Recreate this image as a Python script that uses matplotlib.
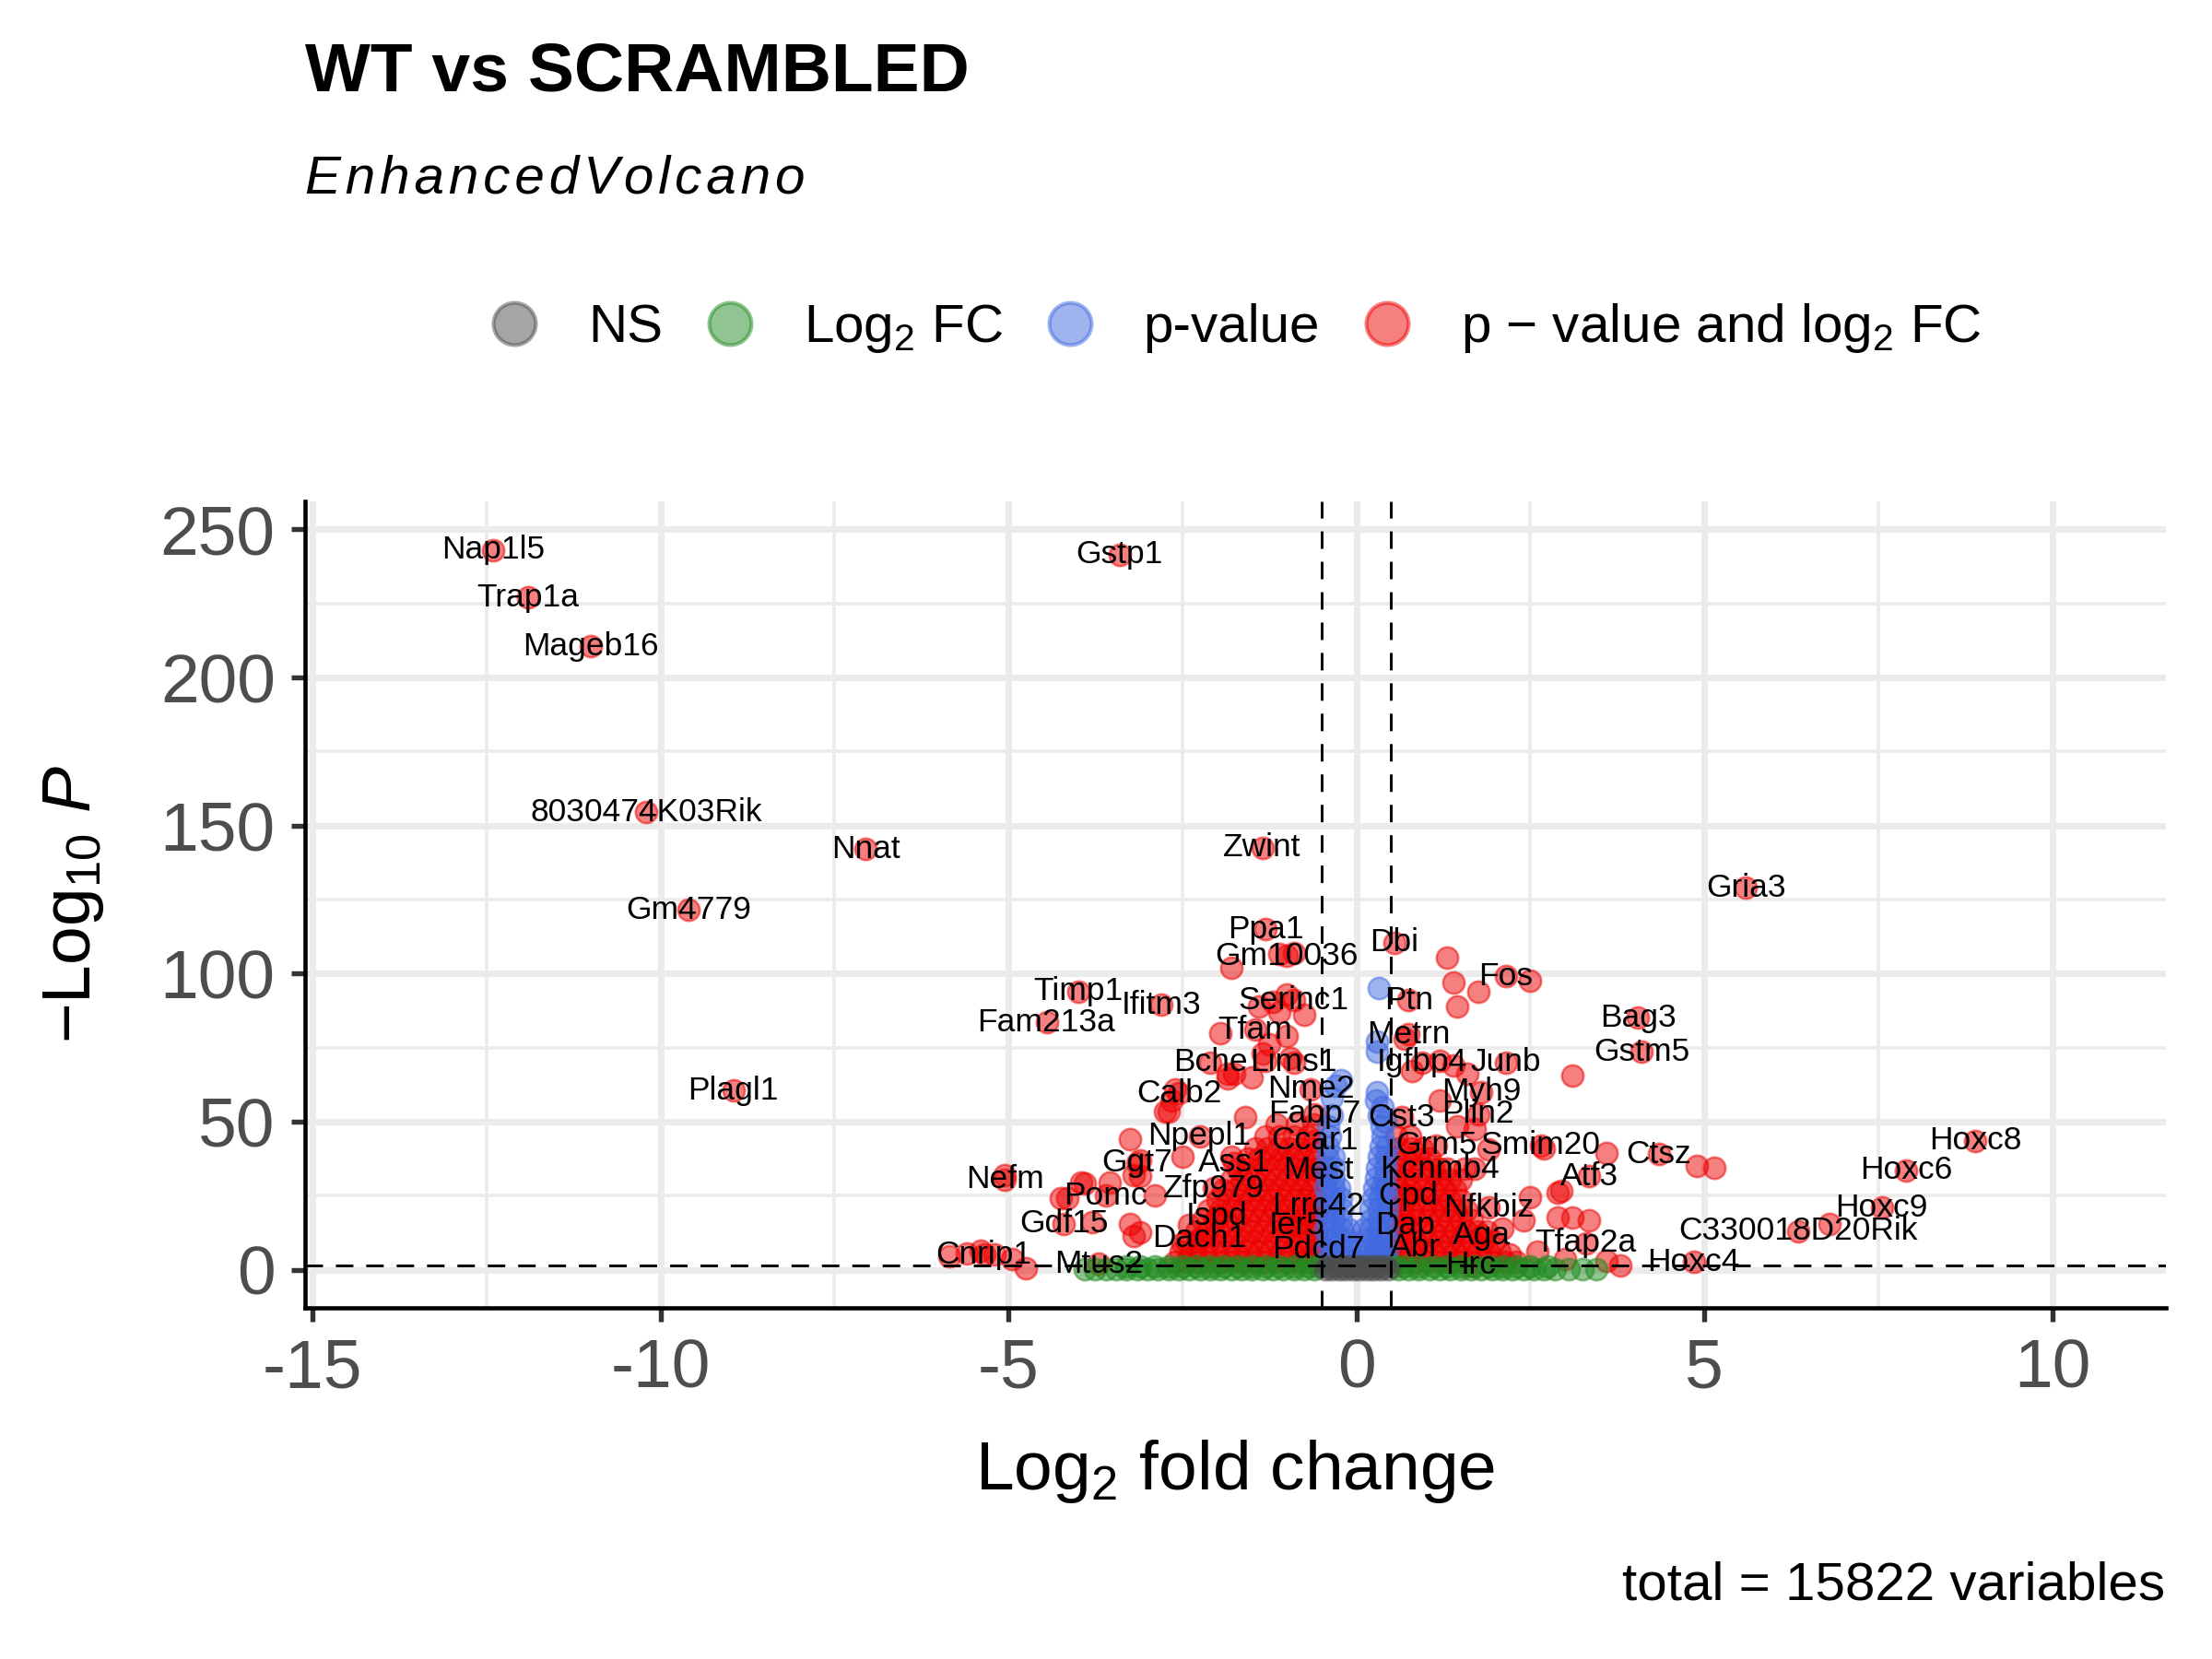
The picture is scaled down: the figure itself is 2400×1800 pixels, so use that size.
import matplotlib
matplotlib.use("Agg")
import matplotlib.pyplot as plt
from matplotlib.lines import Line2D

plt.rcParams['font.family'] = ['Liberation Sans', 'DejaVu Sans']
plt.rcParams['mathtext.fontset'] = 'custom'
plt.rcParams['mathtext.rm'] = 'Liberation Sans'
plt.rcParams['mathtext.it'] = 'Liberation Sans:italic'
plt.rcParams['mathtext.bf'] = 'Liberation Sans:bold'
plt.rcParams['axes.unicode_minus'] = False

# labelled genes (log2 FC, -log10 P)
label_genes = ["Nap1l5", "Trap1a", "Mageb16", "8030474K03Rik", "Nnat", "Gm4779", "Gstp1",
               "Zwint", "Ppa1", "Gm10036", "Dbi", "Gria3", "Fos", "Timp1", "Ifitm3", "Fam213a",
               "Serinc1", "Tfam", "Ptn", "Metrn", "Bag3", "Gstm5", "Bche", "Lims1", "Igfbp4",
               "Junb", "Calb2", "Nme2", "Myh9", "Plagl1", "Fabp7", "Cst3", "Plin2", "Npepl1",
               "Ccar1", "Grm5", "Smim20", "Ctsz", "Hoxc8", "Ggt7", "Ass1", "Mest", "Kcnmb4",
               "Atf3", "Hoxc6", "Nefm", "Zfp979", "Pomc", "Cpd", "Nfkbiz", "Lrrc42", "Hoxc9",
               "Ispd", "Gdf15", "Ier5", "Dap", "C330018D20Rik", "Dach1", "Aga", "Tfap2a", "Abr",
               "Pdcd7", "Cnrip1", "Mtus2", "Hrc", "Hoxc4"]
label_x = [-12.4, -11.9, -11.0, -10.2, -7.05, -9.6, -3.4,
           -1.35, -1.3, -1.0, 0.55, 5.6, 2.15, -4.0, -2.8, -4.45,
           -0.9, -1.45, 0.75, 0.75, 4.05, 4.1, -2.1, -0.9, 0.95,
           2.15, -2.55, -0.65, 1.8, -8.95, -0.6, 0.65, 1.75, -2.25,
           -0.6, 1.15, 2.65, 4.35, 8.9, -3.15, -1.75, -0.55, 1.2,
           3.35, 7.9, -5.05, -2.05, -3.6, 0.75, 1.9, -0.55, 7.55,
           -2.0, -4.2, -0.85, 0.7, 6.35, -2.25, 1.8, 3.3, 0.85,
           -0.55, -5.35, -3.7, 1.65, 4.85]
label_y = [243, 227, 210.5, 154.5, 142, 121.5, 241.5,
           142.5, 115, 106, 110.5, 129, 99, 94, 89.5, 83.5,
           91, 81, 91, 79.5, 85, 73.5, 70, 70, 70,
           70, 59.5, 61, 60, 60.5, 52.5, 51.5, 52.5, 45,
           43.5, 42, 42, 39, 43.5, 36, 36, 33.5, 34,
           31.5, 33.5, 30.5, 27.5, 25, 25, 21, 21.5, 21,
           18, 15.5, 15, 15, 13, 10.5, 11.5, 9, 7.5,
           7, 5, 2, 1.5, 2.5]

# other significant genes (p-value and log2 FC)
red_x = [-1.8, -1.1, -0.9, -1.4, -1.1, -0.75, -1.2, -1.0, -1.95, -1.25, -1.0, -1.35,
         -1.85, -1.75, -1.5, -1.3, -0.95, -2.7, -2.65,
         1.3, 1.4, 1.45, 1.75, 2.5, 0.7, 0.8, 1.2, 1.4, 1.6, 3.1, 1.2, 1.45, 1.7, 1.9,
         2.7, 3.6, 4.9, 5.15, 2.9, 2.5, 2.9, 3.35, 3.1, 2.1, 2.4, 3.0, 3.8, 2.6, 2.2, 6.8,
         -3.25, -3.1, -3.9, -4.15, -3.2, -3.8, -2.9, -3.2, -4.25, -3.95, -3.55, -3.25,
         -3.1, -2.75, -2.6, -2.5, -3.1, -2.4, -2.5, -1.85, -1.6, -1.8,
         -5.4, -5.2, -4.95, -4.75, -5.85, -5.6, -5.05, 2.95, 3.6]
red_y = [102, 106.5, 107, 89, 87, 86, 90.5, 93, 80, 76, 79, 73,
         64.5, 66, 65, 70.5, 71.5, 53.5, 57,
         105.5, 97, 89, 94, 97.5, 78, 67, 70.5, 69, 66, 65.5, 57, 48.5, 47.5, 40.5,
         41, 39.5, 35, 34.5, 26, 24.5, 17.5, 16.5, 17.5, 14, 16.5, 3.5, 1.5, 6, 5, 15.5,
         44, 37, 29, 24, 32, 16, 25, 11.5, 24, 29.5, 29.5, 15.5,
         12.5, 53.5, 61, 38, 31.5, 15, 9, 66, 51.5, 38,
         6.5, 5, 3.5, 0.5, 4.5, 5.5, 32, 26.5, 3]

# dense red cloud left of the cut-off, row by row
red_left_rows_y = [2.5, 6, 9.5, 13, 16.5, 20, 23.5, 27, 30.5, 34, 37.5, 41, 45, 49]
red_left_rows_x = [
    [-2.6, -2.44, -2.28, -2.12, -1.96, -1.8, -1.64, -1.48, -1.32, -1.16, -1.0, -0.84, -0.68, -0.55],
    [-2.52, -2.36, -2.2, -2.04, -1.88, -1.72, -1.56, -1.4, -1.24, -1.08, -0.92, -0.76, -0.6],
    [-2.44, -2.28, -2.12, -1.96, -1.8, -1.64, -1.48, -1.32, -1.16, -1.0, -0.84, -0.68, -0.55],
    [-2.3, -2.14, -1.98, -1.82, -1.66, -1.5, -1.34, -1.18, -1.02, -0.86, -0.7, -0.56],
    [-2.2, -2.04, -1.88, -1.72, -1.56, -1.4, -1.24, -1.08, -0.92, -0.76, -0.6],
    [-2.12, -1.96, -1.8, -1.64, -1.48, -1.32, -1.16, -1.0, -0.84, -0.68, -0.55],
    [-2.0, -1.84, -1.68, -1.52, -1.36, -1.2, -1.04, -0.88, -0.72, -0.58],
    [-1.92, -1.76, -1.6, -1.44, -1.28, -1.12, -0.96, -0.8, -0.64],
    [-1.8, -1.64, -1.48, -1.32, -1.16, -1.0, -0.84, -0.68, -0.55],
    [-1.7, -1.54, -1.38, -1.22, -1.06, -0.9, -0.74, -0.6],
    [-1.56, -1.4, -1.24, -1.08, -0.92, -0.76, -0.6],
    [-1.45, -1.28, -1.12, -0.96, -0.8, -0.64],
    [-1.3, -1.1, -0.9, -0.7],
    [-1.15, -0.85, -0.62],
]
# dense red cloud right of the cut-off
red_right_rows_y = [2.5, 6, 9.5, 13, 16.5, 20, 23.5, 27, 30.5, 34, 37.5, 41, 45]
red_right_rows_x = [
    [0.55, 0.7, 0.86, 1.02, 1.18, 1.34, 1.5, 1.66, 1.82, 1.98, 2.14, 2.3],
    [0.62, 0.78, 0.94, 1.1, 1.26, 1.42, 1.58, 1.74, 1.9, 2.06],
    [0.55, 0.7, 0.86, 1.02, 1.18, 1.34, 1.5, 1.66, 1.82, 1.98],
    [0.62, 0.78, 0.94, 1.1, 1.26, 1.42, 1.58, 1.74, 1.88],
    [0.55, 0.7, 0.86, 1.02, 1.18, 1.34, 1.5, 1.66],
    [0.62, 0.78, 0.94, 1.1, 1.26, 1.42, 1.58],
    [0.55, 0.7, 0.86, 1.02, 1.18, 1.34, 1.5],
    [0.62, 0.78, 0.94, 1.1, 1.26, 1.42],
    [0.55, 0.7, 0.86, 1.02, 1.18, 1.34, 1.5],
    [0.62, 0.78, 0.94, 1.1, 1.3, 1.55, 1.7],
    [0.55, 0.72, 0.9, 1.05],
    [0.62, 0.8, 0.95],
    [0.58, 0.78],
]

# p-value only (blue)
blue_rows_y = [3, 6.5, 10, 13.5, 17, 20.5, 24, 27.5, 31, 34.5, 38, 41.5, 45, 48.5, 52]
blue_rows_x = [
    [-0.42, -0.31, -0.2, -0.09, 0.03, 0.14, 0.25, 0.36, 0.44],
    [-0.44, -0.33, -0.21, -0.09, 0.03, 0.15, 0.27, 0.38, 0.44],
    [-0.42, -0.32, -0.22, -0.12, 0.12, 0.22, 0.32, 0.43],
    [-0.44, -0.33, -0.21, -0.1, 0.1, 0.21, 0.33, 0.44],
    [-0.42, -0.32, -0.22, 0.22, 0.32, 0.43],
    [-0.44, -0.33, -0.2, 0.2, 0.33, 0.44],
    [-0.42, -0.32, -0.22, 0.24, 0.34, 0.44],
    [-0.44, -0.33, -0.24, 0.26, 0.36, 0.43],
    [-0.42, -0.32, 0.28, 0.4],
    [-0.44, -0.33, 0.3, 0.42],
    [-0.42, -0.32, 0.32, 0.43],
    [-0.4, 0.35, 0.44],
    [-0.38, 0.38],
    [-0.4, 0.36],
    [-0.35, 0.33],
]
blue_x = [-0.3, -0.22, 0.3, 0.28, 0.38, -0.35, 0.33, 0.3, 0.3, 0.42]
blue_y = [62, 64, 60, 57, 55, 58, 95, 77, 73.5, 50]

# log2 FC only (green)
green_rows_y = [0.3, 0.95, 0.3, 0.95]
green_rows_x = [
    [-3.9, -3.75, -3.6, -3.45, -3.3, -3.15, -3.0, -2.85, -2.7, -2.55, -2.4, -2.25, -2.1,
     -1.95, -1.8, -1.65, -1.5, -1.35, -1.2, -1.05, -0.9, -0.75, -0.6],
    [-3.3, -3.1, -2.9, -2.7, -2.5, -2.3, -2.1, -1.9, -1.7, -1.5, -1.3, -1.1, -0.9, -0.7, -0.55],
    [0.6, 0.75, 0.9, 1.05, 1.2, 1.35, 1.5, 1.65, 1.8, 1.95, 2.1, 2.25, 2.4, 2.55, 2.7, 2.85,
     3.05, 3.25, 3.45],
    [0.55, 0.7, 0.9, 1.1, 1.3, 1.5, 1.7, 1.9, 2.1, 2.3, 2.5, 2.75],
]

# not significant (grey)
grey_rows_y = [0.3, 1.0]
grey_rows_x = [
    [-0.45, -0.35, -0.25, -0.15, -0.05, 0.05, 0.15, 0.25, 0.35, 0.45],
    [-0.4, -0.3, -0.2, -0.1, 0.0, 0.1, 0.2, 0.3, 0.4],
]

fc_cut = 0.5
p_cut = 1.30103  # -log10(0.05)

col_ns = "#4D4D4D"
col_fc = "#228B22"
col_p = "#4169E1"
col_both = "#EE0000"


def rows_to_xy(rows_y, rows_x):
    xs, ys = [], []
    for yv, row in zip(rows_y, rows_x):
        xs += row
        ys += [yv] * len(row)
    return xs, ys


rl_x, rl_y = rows_to_xy(red_left_rows_y, red_left_rows_x)
rr_x, rr_y = rows_to_xy(red_right_rows_y, red_right_rows_x)
b_x, b_y = rows_to_xy(blue_rows_y, blue_rows_x)
g_x, g_y = rows_to_xy(green_rows_y, green_rows_x)
n_x, n_y = rows_to_xy(grey_rows_y, grey_rows_x)

all_red_x = label_x + red_x + rl_x + rr_x
all_red_y = label_y + red_y + rl_y + rr_y

fig = plt.figure(figsize=(8, 6), dpi=300)
ax = fig.add_axes([0.1378, 0.2117, 0.979 - 0.1378, 0.698 - 0.2117])

pt = 32
ax.scatter(all_red_x, all_red_y, s=pt, c=col_both, alpha=0.5, edgecolors=col_both, linewidths=0.6, zorder=2)
ax.scatter(b_x + blue_x, b_y + blue_y, s=pt, c=col_p, alpha=0.5, edgecolors=col_p, linewidths=0.6, zorder=2.5)
ax.scatter(g_x, g_y, s=pt, c=col_fc, alpha=0.5, edgecolors=col_fc, linewidths=0.6, zorder=3)
ax.scatter(n_x, n_y, s=pt, c=col_ns, alpha=0.5, edgecolors=col_ns, linewidths=0.6, zorder=3)

dash = (0, (6.5, 4.8))
ax.axvline(-fc_cut, color="black", lw=0.7, linestyle=dash, zorder=4)
ax.axvline(fc_cut, color="black", lw=0.7, linestyle=dash, zorder=4)
ax.axhline(p_cut, color="black", lw=0.7, linestyle=dash, zorder=4)

for name, x, y in zip(label_genes, label_x, label_y):
    ax.text(x, y, name, fontsize=8.5, ha="center", va="center", color="black", zorder=5)

ax.set_xlim(-15.11, 11.63)
ax.set_ylim(-12.9, 259.6)
ax.set_xticks([-15, -10, -5, 0, 5, 10])
ax.set_xticks([-12.5, -7.5, -2.5, 2.5, 7.5], minor=True)
ax.set_yticks([0, 50, 100, 150, 200, 250])
ax.set_yticks([25, 75, 125, 175, 225], minor=True)
ax.set_axisbelow(True)
ax.grid(which="major", color="#EBEBEB", lw=1.7)
ax.grid(which="minor", color="#EBEBEB", lw=0.9)
ax.tick_params(which="major", length=3.7, width=1.3, color="#333333",
               labelsize=18, labelcolor="#4D4D4D", pad=4)
ax.tick_params(which="minor", length=0)
for side in ["top", "right"]:
    ax.spines[side].set_visible(False)
for side in ["left", "bottom"]:
    ax.spines[side].set_linewidth(1.1)
    ax.spines[side].set_color("black")

ax.set_xlabel(r"Log$_2$ fold change", fontsize=18, labelpad=9.5)
ax.set_ylabel(r"$-$Log$_{10}$ $\mathit{P}$", fontsize=18, labelpad=14)

fig.text(0.138, 0.956, "WT vs SCRAMBLED", fontsize=18, weight="bold", va="center", ha="left")
fig.text(0.138, 0.892, "\u200a".join("EnhancedVolcano"), fontsize=14, style="italic",
         va="center", ha="left")
fig.text(0.979, 0.044, "total = 15822 variables", fontsize=14, va="center", ha="right")

handles = [
    Line2D([], [], marker="o", linestyle="", markersize=11, color=col_ns, alpha=0.5),
    Line2D([], [], marker="o", linestyle="", markersize=11, color=col_fc, alpha=0.5),
    Line2D([], [], marker="o", linestyle="", markersize=11, color=col_p, alpha=0.5),
    Line2D([], [], marker="o", linestyle="", markersize=11, color=col_both, alpha=0.5),
]
names = ["NS", r"Log$_2$ FC", "p-value", r"p $-$ value and log$_2$ FC"]
fig.legend(handles, names, loc="center", bbox_to_anchor=(0.558, 0.802), ncol=4,
           frameon=False, fontsize=14, handlelength=1.0, handletextpad=0.87,
           columnspacing=0.75, borderpad=0)

fig.savefig("out.png", dpi=300)
